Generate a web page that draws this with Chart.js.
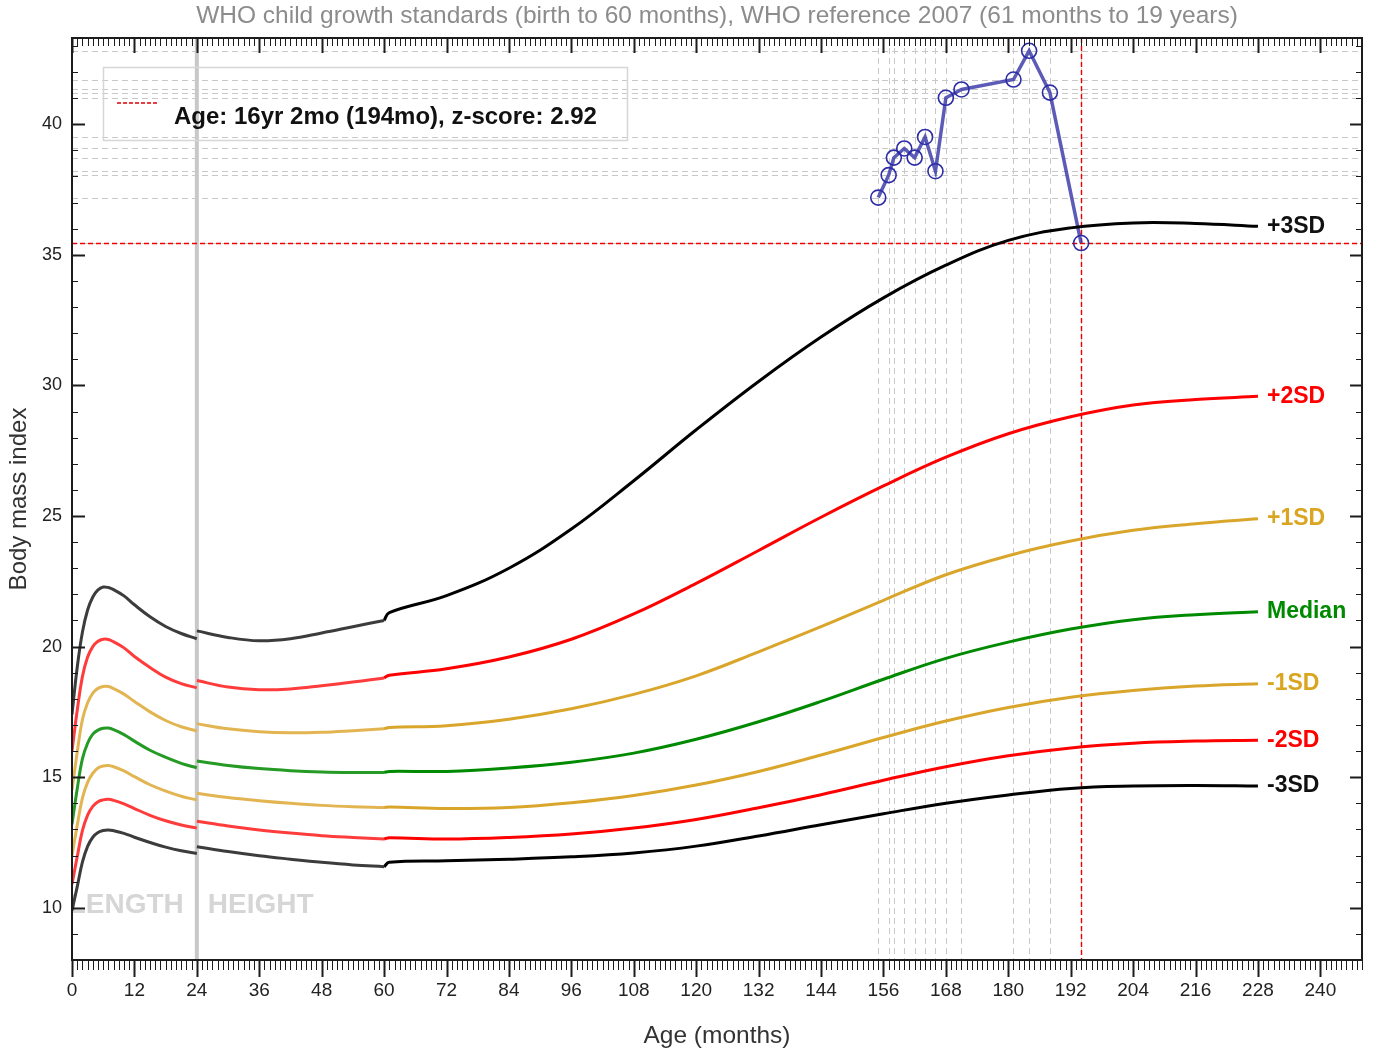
<!DOCTYPE html>
<html>
<head>
<meta charset="utf-8">
<script src="https://cdn.jsdelivr.net/npm/chart.js@4.4.0/dist/chart.umd.min.js"></script>
<style>
  html, body { margin: 0; padding: 0; background: #fff; }
  canvas { display: block; }
</style>
</head>
<body>
<canvas id="bmiChart" width="1379" height="1058"></canvas>
<script>
// axis ticks
const xTicks = [0, 12, 24, 36, 48, 60, 72, 84, 96, 108, 120, 132, 144, 156, 168, 180, 192, 204, 216, 228, 240];
const yTicks = [10, 15, 20, 25, 30, 35, 40];

// months for each part of the reference curves
const lengthMonths = [0, 1, 2, 3, 4, 5, 6, 7, 8, 10, 12, 15, 18, 21, 24];
const heightMonths = [24, 30, 36, 42, 48, 54, 60];
const refMonths = [60, 61, 72, 84, 96, 108, 120, 132, 144, 156, 168, 180, 192, 204, 216, 228];

const sdLabels = ['+3SD', '+2SD', '+1SD', 'Median', '-1SD', '-2SD', '-3SD'];

// birth to 24 months (length)
const lenP3 = [17.4, 19.2, 20.55, 21.4, 21.9, 22.17, 22.28, 22.26, 22.18, 21.94, 21.6, 21.14, 20.77, 20.5, 20.3];
const lenP2 = [16.0, 17.55, 18.85, 19.6, 20.0, 20.2, 20.28, 20.27, 20.18, 19.95, 19.62, 19.2, 18.83, 18.58, 18.42];
const lenP1 = [14.5, 15.95, 17.2, 17.85, 18.22, 18.4, 18.47, 18.47, 18.39, 18.18, 17.9, 17.5, 17.17, 16.93, 16.77];
const lenM = [13.2, 14.55, 15.7, 16.3, 16.65, 16.8, 16.87, 16.88, 16.82, 16.63, 16.38, 16.03, 15.76, 15.53, 15.36];
const lenN1 = [12.0, 13.15, 14.2, 14.8, 15.15, 15.35, 15.43, 15.45, 15.4, 15.24, 15.02, 14.71, 14.47, 14.27, 14.13];
const lenN2 = [10.9, 11.95, 12.95, 13.55, 13.88, 14.06, 14.13, 14.15, 14.11, 13.98, 13.8, 13.54, 13.33, 13.17, 13.05];
const lenN3 = [9.9, 10.8, 11.75, 12.35, 12.7, 12.88, 12.96, 12.98, 12.95, 12.85, 12.7, 12.5, 12.32, 12.18, 12.08];

// 24 to 60 months (height)
const hgtP3 = [20.6, 20.35, 20.22, 20.3, 20.52, 20.76, 21.0];
const hgtP2 = [18.7, 18.45, 18.35, 18.38, 18.5, 18.64, 18.8];
const hgtP1 = [17.05, 16.85, 16.74, 16.7, 16.72, 16.78, 16.85];
const hgtM = [15.62, 15.45, 15.33, 15.25, 15.2, 15.18, 15.18];
const hgtN1 = [14.38, 14.22, 14.1, 14.0, 13.92, 13.87, 13.84];
const hgtN2 = [13.31, 13.13, 12.98, 12.86, 12.76, 12.69, 12.63];
const hgtN3 = [12.34, 12.15, 11.99, 11.86, 11.74, 11.64, 11.57];

// 60/61 months to 19 years (reference 2007); first value joins the height curve
const refP3 = [21.0, 21.3, 21.95, 23.0, 24.5, 26.35, 28.3, 30.15, 31.85, 33.35, 34.6, 35.55, 36.03, 36.22, 36.2, 36.09];
const refP2 = [18.8, 18.9, 19.15, 19.6, 20.28, 21.25, 22.42, 23.68, 24.95, 26.15, 27.25, 28.15, 28.8, 29.25, 29.46, 29.58];
const refP1 = [16.85, 16.9, 16.97, 17.22, 17.62, 18.17, 18.88, 19.8, 20.76, 21.77, 22.75, 23.48, 24.04, 24.45, 24.7, 24.89];
const refM = [15.18, 15.22, 15.22, 15.35, 15.57, 15.92, 16.45, 17.12, 17.9, 18.75, 19.55, 20.17, 20.67, 21.03, 21.22, 21.33];
const refN1 = [13.84, 13.86, 13.8, 13.84, 14.02, 14.3, 14.7, 15.22, 15.85, 16.52, 17.15, 17.67, 18.06, 18.32, 18.49, 18.58];
const refN2 = [12.63, 12.68, 12.63, 12.69, 12.82, 13.05, 13.38, 13.83, 14.33, 14.88, 15.4, 15.82, 16.12, 16.3, 16.38, 16.41];
const refN3 = [11.57, 11.74, 11.8, 11.86, 11.95, 12.1, 12.36, 12.75, 13.18, 13.6, 14.0, 14.32, 14.57, 14.66, 14.68, 14.66];

// patient measurements
const visitMonths = [155, 157, 158, 160, 162, 164, 166, 168, 171, 181, 184, 188, 194];
const visitBmi = [37.19, 38.05, 38.72, 39.07, 38.72, 39.51, 38.2, 41.01, 41.33, 41.71, 42.81, 41.21, 35.45];

const lenSets = [lenP3, lenP2, lenP1, lenM, lenN1, lenN2, lenN3];
const hgtSets = [hgtP3, hgtP2, hgtP1, hgtM, hgtN1, hgtN2, hgtN3];
const refSets = [refP3, refP2, refP1, refM, refN1, refN2, refN3];

const earlyColors = ['#3c3c3c', '#ff3c3c', '#e2b552', '#259a25', '#e2b552', '#ff3c3c', '#3c3c3c'];
const lateColors = ['#000000', '#ff0000', '#d9a62b', '#008a00', '#d9a62b', '#ff0000', '#000000'];
const labelColors = ['#111111', '#ff0000', '#daa520', '#008a00', '#daa520', '#ff0000', '#111111'];

Chart.defaults.font.family = '"Liberation Sans", Arial, sans-serif';

function curve(months, values, color) {
    return {
        data: months.map((m, i) => ({x: m, y: values[i]})),
        borderColor: color,
        borderWidth: 3,
        pointRadius: 0,
        tension: 0.4,
        fill: false,
    };
}

const datasets = [];
for (let i = 0; i < 7; i++) {
    datasets.push(curve(lengthMonths, lenSets[i], earlyColors[i]));
    datasets.push(curve(heightMonths, hgtSets[i], earlyColors[i]));
    datasets.push(curve(refMonths, refSets[i], lateColors[i]));
}
datasets.push({
    data: visitMonths.map((m, i) => ({x: m, y: visitBmi[i]})),
    borderColor: 'rgba(56,56,168,0.82)',
    borderWidth: 3.5,
    pointRadius: 7.5,
    pointBorderWidth: 1.6,
    pointBorderColor: '#2c2ca6',
    pointBackgroundColor: 'rgba(0,0,0,0)',
    tension: 0,
    fill: false,
});

const growthExtras = {
    id: 'growthExtras',
    beforeDatasetsDraw(chart) {
        const {ctx, chartArea: a, scales: {x, y}} = chart;
        ctx.save();
        ctx.beginPath();
        ctx.rect(a.left, a.top, a.width, a.height);
        ctx.clip();
        // dashed guides through each visit
        ctx.strokeStyle = '#c8c8c8';
        ctx.lineWidth = 1;
        ctx.setLineDash([6, 4]);
        visitMonths.forEach((m, i) => {
            const px = Math.round(x.getPixelForValue(m)) + 0.5;
            const py = Math.round(y.getPixelForValue(visitBmi[i])) + 0.5;
            ctx.beginPath();
            ctx.moveTo(px, a.top); ctx.lineTo(px, a.bottom);
            ctx.moveTo(a.left, py); ctx.lineTo(a.right, py);
            ctx.stroke();
        });
        // length / height divider
        const x24 = x.getPixelForValue(24);
        ctx.setLineDash([]);
        ctx.strokeStyle = '#c8c8c8';
        ctx.lineWidth = 4;
        ctx.beginPath();
        ctx.moveTo(x24, a.top); ctx.lineTo(x24, a.bottom);
        ctx.stroke();
        ctx.font = 'bold 28px "Liberation Sans", Arial, sans-serif';
        ctx.fillStyle = '#d6d6d6';
        ctx.textBaseline = 'middle';
        const ty = y.getPixelForValue(10) - 2;
        ctx.textAlign = 'right';
        ctx.fillText('LENGTH', x24 - 13, ty);
        ctx.textAlign = 'left';
        ctx.fillText('HEIGHT', x24 + 11, ty);
        // crosshair on the latest visit
        const last = visitMonths.length - 1;
        const cx = Math.round(x.getPixelForValue(visitMonths[last])) + 0.5;
        const cy = Math.round(y.getPixelForValue(visitBmi[last])) + 0.5;
        ctx.strokeStyle = '#ee0000';
        ctx.lineWidth = 1.4;
        ctx.setLineDash([5, 3]);
        ctx.beginPath();
        ctx.moveTo(cx, a.top); ctx.lineTo(cx, a.bottom);
        ctx.moveTo(a.left, cy); ctx.lineTo(a.right, cy);
        ctx.stroke();
        ctx.restore();
    },
    afterDatasetsDraw(chart) {
        const {ctx} = chart;
        ctx.save();
        // legend box
        ctx.strokeStyle = '#d6d6d6';
        ctx.lineWidth = 1.5;
        ctx.strokeRect(103.5, 67.5, 524, 73);
        ctx.strokeStyle = '#e00000';
        ctx.lineWidth = 1.5;
        ctx.setLineDash([4, 2]);
        ctx.beginPath();
        ctx.moveTo(117, 103); ctx.lineTo(157, 103);
        ctx.stroke();
        ctx.setLineDash([]);
        ctx.font = 'bold 24px "Liberation Sans", Arial, sans-serif';
        ctx.fillStyle = '#111';
        ctx.textBaseline = 'alphabetic';
        ctx.textAlign = 'left';
        ctx.fillText('Age: 16yr 2mo (194mo), z-score: 2.92', 174, 124);
        ctx.restore();
    },
    afterDraw(chart) {
        const {ctx, chartArea: a, scales: {x, y}} = chart;
        ctx.save();
        // title
        ctx.font = '24.5px "Liberation Sans", Arial, sans-serif';
        ctx.fillStyle = '#8c8c8c';
        ctx.textAlign = 'center';
        ctx.textBaseline = 'middle';
        ctx.fillText('WHO child growth standards (birth to 60 months), WHO reference 2007 (61 months to 19 years)', (a.left + a.right) / 2, 16);
        // curve labels
        ctx.font = 'bold 23px "Liberation Sans", Arial, sans-serif';
        ctx.textAlign = 'left';
        const endX = x.getPixelForValue(refMonths[refMonths.length - 1]) + 9;
        refSets.forEach((vals, i) => {
            ctx.fillStyle = labelColors[i];
            ctx.fillText(sdLabels[i], endX, y.getPixelForValue(vals[vals.length - 1]));
        });
        // frame and tick marks
        ctx.strokeStyle = '#1c1c1c';
        ctx.lineWidth = 2;
        ctx.strokeRect(a.left, a.top, a.width, a.height);
        for (let m = 0; m <= 248; m++) {
            const px = Math.round(x.getPixelForValue(m)) + 0.5;
            const major = m % 12 === 0;
            ctx.lineWidth = major ? 2 : 1;
            ctx.beginPath();
            ctx.moveTo(px, a.bottom); ctx.lineTo(px, a.bottom + (major ? 17 : 10));
            ctx.moveTo(px, a.top); ctx.lineTo(px, a.top + (major ? 15 : 8));
            ctx.stroke();
        }
        for (let v = 8; v <= 43; v++) {
            const py = Math.round(y.getPixelForValue(v)) + 0.5;
            const major = v % 5 === 0;
            ctx.lineWidth = major ? 2 : 1;
            ctx.beginPath();
            ctx.moveTo(a.left, py); ctx.lineTo(a.left + (major ? 13 : 6), py);
            ctx.moveTo(a.right, py); ctx.lineTo(a.right - (major ? 12 : 6), py);
            ctx.stroke();
        }
        ctx.restore();
    }
};

const config = {
    type: 'line',
    data: {datasets},
    options: {
        responsive: false,
        animation: false,
        events: [],
        layout: {padding: {top: 38, right: 17, left: 0, bottom: 0}},
        scales: {
            x: {
                type: 'linear',
                min: 0,
                max: 248,
                afterBuildTicks: s => { s.ticks = xTicks.map(v => ({value: v})); },
                afterFit: s => { s.height = 98; },
                grid: {display: false, drawTicks: false},
                border: {display: false},
                ticks: {padding: 19, color: '#222', font: {size: 19}, maxRotation: 0, autoSkip: false},
                title: {display: true, text: 'Age (months)', color: '#333', font: {size: 24.5}, padding: {bottom: 7}},
            },
            y: {
                type: 'linear',
                min: 8,
                max: 43.3,
                afterBuildTicks: s => { s.ticks = yTicks.map(v => ({value: v})); },
                afterFit: s => { s.width = 72; },
                grid: {display: false, drawTicks: false},
                border: {display: false},
                ticks: {padding: 10, color: '#222', font: {size: 18}},
                title: {display: true, text: 'Body mass index', color: '#333', font: {size: 24}, padding: {top: 5}},
            },
        },
        plugins: {
            legend: {display: false},
            tooltip: {enabled: false},
        },
    },
    plugins: [growthExtras],
};

const bmiChart = new Chart(document.getElementById('bmiChart'), config);
</script>
</body>
</html>
